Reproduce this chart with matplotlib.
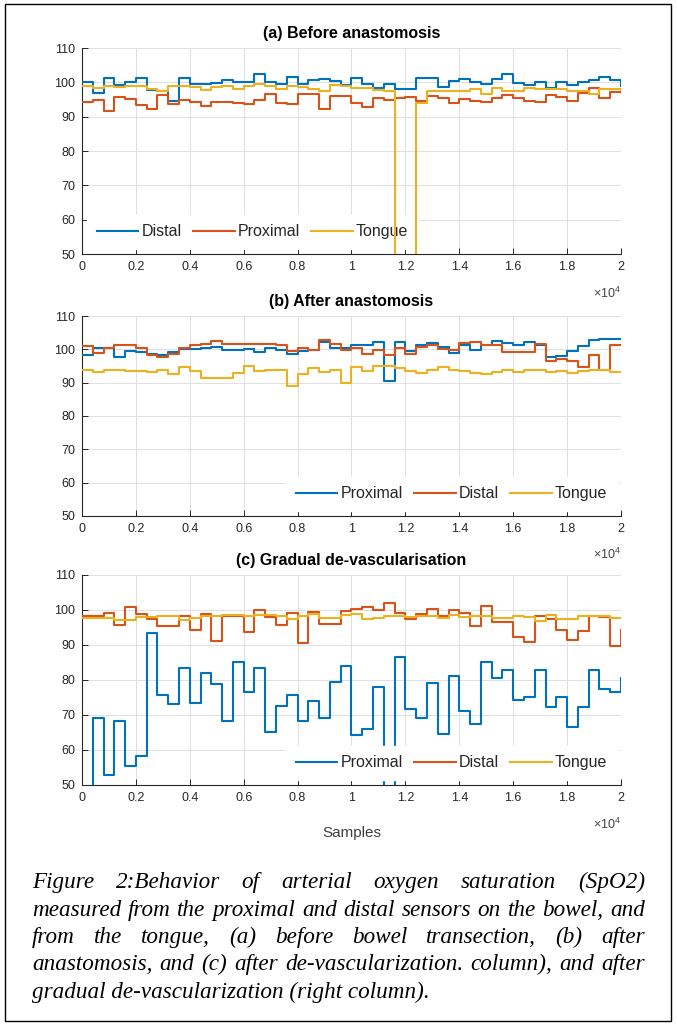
import numpy as np
import matplotlib
matplotlib.use('Agg')
import matplotlib.pyplot as plt
from matplotlib.patches import Rectangle

plt.rcParams['font.family'] = ['Liberation Sans', 'DejaVu Sans']
plt.rcParams['mathtext.fontset'] = 'custom'
plt.rcParams['mathtext.rm'] = 'Liberation Sans'

BLUE = '#0072BD'
ORANGE = '#D95319'
YELLOW = '#EDB120'
AX_COL = '#262626'

# one held SpO2 reading every 400 samples, last point = end of record
samples = np.arange(0, 20001, 400)

a_distal = [100.2, 97.0, 101.2, 99.2, 100.1, 101.3, 97.8, 97.5, 94.6, 101.2,
            99.4, 99.4, 99.9, 100.7, 100.0, 100.2, 102.4, 100.0, 99.4, 101.7,
            99.6, 100.7, 101.0, 100.4, 99.2, 101.4, 99.5, 98.4, 99.4, 98.1,
            98.1, 101.4, 101.4, 98.6, 100.4, 101.0, 100.0, 99.5, 101.1, 102.4,
            99.7, 99.2, 100.1, 98.4, 100.1, 99.3, 100.2, 100.6, 101.7, 100.6, 98.9]
a_proximal = [94.2, 95.0, 91.6, 95.6, 95.2, 93.4, 92.1, 96.2, 93.8, 94.8,
              94.3, 93.1, 94.2, 94.2, 93.9, 93.6, 94.8, 96.5, 94.0, 93.7,
              96.6, 96.6, 92.1, 95.9, 95.9, 94.1, 92.8, 95.5, 94.8, 95.3,
              95.7, 94.5, 95.9, 95.3, 94.0, 95.2, 94.5, 94.2, 95.5, 96.3,
              95.5, 94.5, 94.2, 96.3, 95.7, 94.5, 96.9, 98.3, 95.3, 97.3, 97.4]
a_tongue = [98.8, 98.4, 98.9, 98.6, 98.9, 99.0, 98.1, 97.6, 98.9, 98.9,
            98.6, 97.8, 98.6, 98.9, 98.0, 98.9, 99.4, 98.8, 98.0, 98.8,
            98.6, 98.2, 97.5, 99.3, 98.9, 98.5, 98.4, 97.7, 97.5, 0.0,
            0.0, 94.0, 97.4, 97.4, 97.4, 97.6, 98.0, 96.6, 98.5, 97.4,
            97.4, 98.4, 98.2, 98.0, 98.0, 97.4, 97.4, 96.7, 98.0, 98.0, 97.8]

b_proximal = [98.4, 100.4, 100.4, 97.6, 99.4, 99.2, 98.7, 98.2, 99.2, 100.2,
              100.2, 100.4, 100.7, 99.7, 99.7, 100.2, 99.2, 100.5, 99.7, 98.5,
              99.4, 99.7, 102.3, 100.4, 100.4, 101.4, 101.4, 102.3, 90.5, 102.3,
              99.5, 101.4, 101.9, 100.7, 99.0, 101.2, 99.7, 101.2, 102.5, 101.9,
              101.2, 102.3, 101.4, 97.6, 97.9, 99.5, 101.0, 102.8, 103.0, 103.0, 103.0]
b_distal = [101.0, 98.9, 100.5, 101.2, 101.2, 100.5, 98.2, 97.7, 98.7, 100.4,
            101.2, 101.5, 102.6, 101.5, 101.7, 101.7, 101.7, 101.7, 101.2, 99.4,
            100.4, 99.7, 102.8, 101.7, 99.9, 100.4, 98.7, 99.9, 98.4, 100.4,
            98.7, 100.7, 101.2, 100.2, 99.7, 101.9, 102.2, 101.4, 101.4, 99.2,
            99.2, 99.2, 101.5, 96.6, 97.1, 96.6, 94.6, 98.2, 93.8, 101.2, 101.2]
b_tongue = [93.8, 93.3, 93.7, 93.8, 93.6, 93.6, 93.3, 93.7, 92.6, 94.6,
            93.5, 91.3, 91.3, 91.3, 93.0, 94.9, 93.5, 93.8, 93.8, 89.0,
            92.6, 94.3, 93.3, 93.8, 90.0, 94.6, 93.5, 94.9, 95.1, 94.3,
            93.5, 93.0, 93.8, 94.6, 93.8, 93.5, 93.0, 92.6, 93.3, 93.8,
            93.3, 93.7, 93.7, 93.2, 93.5, 93.0, 93.5, 93.8, 93.8, 93.3, 93.3]

c_proximal = [45.0, 69.2, 52.8, 68.2, 55.3, 58.3, 93.3, 75.6, 73.1, 83.5,
              73.4, 82.0, 78.8, 68.2, 85.2, 76.7, 83.5, 65.1, 72.5, 75.8,
              68.2, 73.9, 69.2, 79.3, 84.1, 64.4, 66.0, 78.0, 45.0, 86.5,
              71.8, 69.0, 79.1, 64.6, 81.2, 71.2, 67.3, 85.2, 80.5, 82.9,
              74.4, 75.0, 82.9, 72.3, 75.0, 66.5, 72.3, 82.9, 77.4, 76.7, 80.7]
c_distal = [98.2, 98.2, 99.0, 95.7, 100.9, 98.9, 97.3, 95.4, 95.4, 98.4,
            94.4, 98.9, 91.2, 98.2, 98.2, 93.8, 100.1, 97.9, 95.7, 99.1,
            90.7, 99.3, 96.0, 96.0, 99.6, 100.4, 100.8, 100.1, 102.1, 99.0,
            97.4, 98.8, 100.2, 98.2, 100.0, 99.0, 95.4, 101.1, 96.7, 96.7,
            92.2, 90.8, 98.2, 97.4, 94.3, 91.3, 94.1, 98.3, 98.0, 89.6, 94.2]
c_tongue = [97.7, 97.7, 97.7, 97.2, 97.2, 97.9, 97.9, 98.3, 98.3, 97.2,
            97.6, 98.2, 98.2, 98.5, 98.5, 98.3, 98.6, 98.6, 98.2, 97.4,
            98.3, 98.9, 97.7, 97.7, 98.5, 98.9, 97.4, 97.6, 98.2, 98.3,
            97.9, 98.2, 98.2, 97.6, 98.6, 97.9, 98.2, 98.2, 97.7, 97.7,
            98.3, 98.0, 96.8, 98.5, 97.4, 97.4, 98.3, 98.3, 98.3, 97.7, 97.7]

panels = [
    dict(title='(a) Before anastomosis', rect=[0.1211, 0.7524, 0.7962, 0.2008],
         series=[('Distal', a_distal, BLUE), ('Proximal', a_proximal, ORANGE),
                 ('Tongue', a_tongue, YELLOW)], legend='left'),
    dict(title='(b) After anastomosis', rect=[0.1211, 0.4971, 0.7962, 0.1949],
         series=[('Proximal', b_proximal, BLUE), ('Distal', b_distal, ORANGE),
                 ('Tongue', b_tongue, YELLOW)], legend='right'),
    dict(title='(c) Gradual de-vascularisation', rect=[0.1211, 0.2349, 0.7962, 0.2047],
         series=[('Proximal', c_proximal, BLUE), ('Distal', c_distal, ORANGE),
                 ('Tongue', c_tongue, YELLOW)], legend='right'),
]

xticks = np.arange(0, 20001, 2000)
xticklabels = ['0', '0.2', '0.4', '0.6', '0.8', '1', '1.2', '1.4', '1.6', '1.8', '2']

fig = plt.figure(figsize=(6.77, 10.26), dpi=100)

for i, p in enumerate(panels):
    ax = fig.add_axes(p['rect'])
    for name, vals, col in p['series']:
        ax.plot(samples, vals, drawstyle='steps-post', color=col, lw=1.5,
                label=name, zorder=3)
    ax.set_xlim(0, 20000)
    ax.set_ylim(50, 110)
    ax.set_xticks(xticks)
    ax.set_xticklabels(xticklabels)
    ax.set_yticks(np.arange(50, 111, 10))
    ax.grid(True, color='#e0e0e0', lw=0.7)
    ax.set_axisbelow(True)
    for s in ['top', 'right']:
        ax.spines[s].set_visible(False)
    for s in ['left', 'bottom']:
        ax.spines[s].set_color(AX_COL)
        ax.spines[s].set_linewidth(0.8)
    ax.tick_params(direction='in', length=4, width=0.7, colors=AX_COL,
                   labelsize=9, pad=5)
    ax.set_title(p['title'], fontsize=11.5, fontweight='bold', color='black', pad=7)
    ax.text(1.0, -0.19, r'$\times 10^{4}$', transform=ax.transAxes,
            ha='right', va='center', fontsize=9, color='#444444')
    if p['legend'] == 'left':
        loc, anchor = 'lower left', (0.01, 0.025)
    else:
        loc, anchor = 'lower right', (0.992, 0.025)
    leg = ax.legend(loc=loc, bbox_to_anchor=anchor, ncol=3, fontsize=11.5,
                    handlelength=2.6, handletextpad=0.2, columnspacing=0.7,
                    borderpad=0.6, borderaxespad=0, frameon=True, fancybox=False)
    leg.get_frame().set_edgecolor('white')
    leg.get_frame().set_facecolor('white')
    leg.get_frame().set_alpha(1)
    for t in leg.get_texts():
        t.set_color(AX_COL)
    # in (a) the tongue dropout is still seen through the legend box
    leg.set_zorder(2.8 if p['legend'] == 'left' else 5)
    if i == 2:
        ax.set_xlabel('Samples', fontsize=11, color='#404040', labelpad=16)

# caption, justified like the journal text block
caption = [
    'Figure 2:Behavior of arterial oxygen saturation (SpO2)',
    'measured from the proximal and distal sensors on the bowel, and',
    'from the tongue, (a) before bowel transection, (b) after',
    'anastomosis, and (c) after de-vascularization. column), and after',
    'gradual de-vascularization (right column).',
]
line_base = [888, 916, 943, 970, 998]
x_left, x_right = 32, 645
W, H = 677, 1026

fig.canvas.draw()
renderer = fig.canvas.get_renderer()
cap_kw = dict(family='Liberation Serif', style='italic', color='black', va='baseline')

# pick a size so the widest line fills the block with normal spacing
probe = fig.text(0, 0, caption[1], fontsize=14, **cap_kw)
w = probe.get_window_extent(renderer).width
probe.remove()
cap_size = 14 * (x_right - x_left) / w * 0.985

for k, (line, yy) in enumerate(zip(caption, line_base)):
    words = line.split(' ')
    yf = 1 - yy / H
    if k == len(caption) - 1:
        fig.text(x_left / W, yf, line, fontsize=cap_size, ha='left', **cap_kw)
        continue
    texts = [fig.text(0, yf, wd, fontsize=cap_size, ha='left', **cap_kw) for wd in words]
    widths = [t.get_window_extent(renderer).width for t in texts]
    gap = (x_right - x_left - sum(widths)) / (len(words) - 1)
    x = x_left
    for t, wd in zip(texts, widths):
        t.set_x(x / W)
        x += wd + gap

fig.patches.append(Rectangle((5 / W, 1 - 1021 / H), 666 / W, 1017 / H,
                             transform=fig.transFigure, fill=False,
                             edgecolor='black', lw=1.0))

fig.savefig('out.png', dpi=100)
